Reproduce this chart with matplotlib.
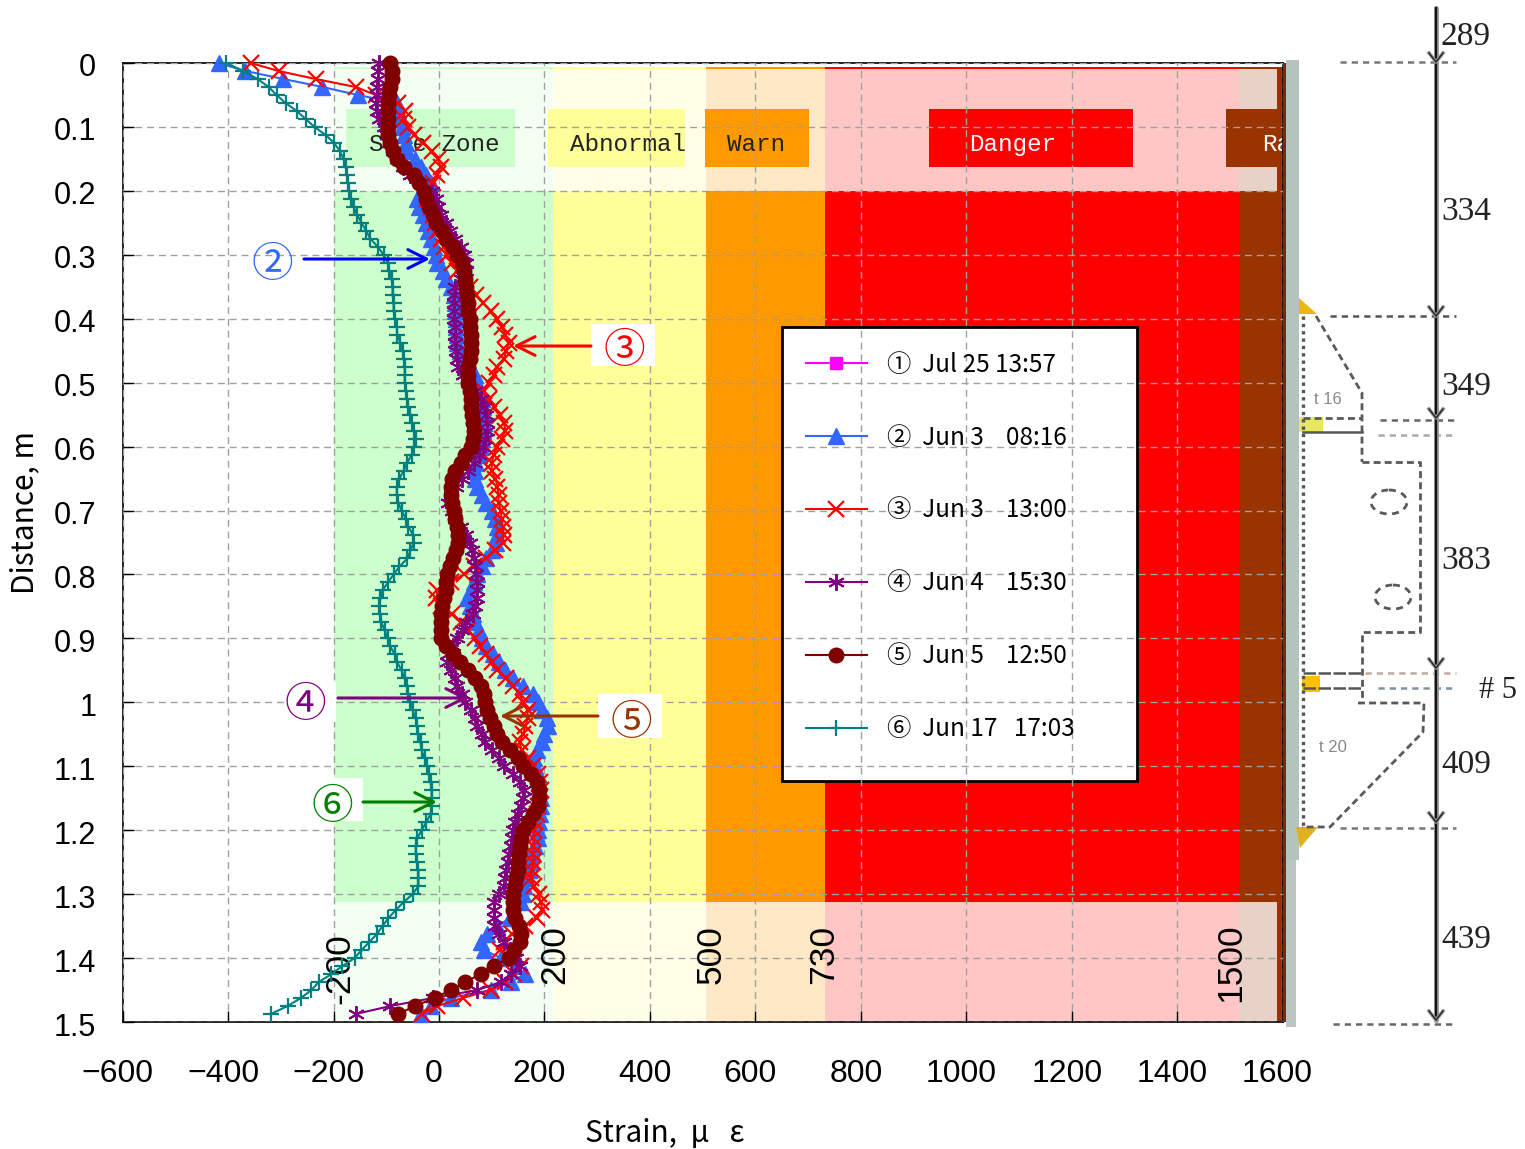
import numpy as np
import matplotlib
matplotlib.use('Agg')
import matplotlib.pyplot as plt
from matplotlib.patches import Rectangle, Ellipse, Polygon
from matplotlib.transforms import ScaledTranslation

plt.rcParams['font.family'] = ['Noto Sans CJK JP', 'DejaVu Sans']

# strain readings along the gauge line, one every 0.0125 m
strain_jun3_0816 = [-418, -367, -295, -221, -154, -79, -77, -73, -71, -67, -63, -60, -46, -35, -24, -16, -31, -41, -37, -31,
                    -25, -20, -16, -10, -6, -3, 7, 14, 22, 28, 30, 31, 33, 33, 35, 35, 39, 47, 56, 69,
                    73, 77, 81, 83, 85, 85, 83, 81, 79, 75, 71, 68, 68, 73, 81, 90, 100, 107, 111, 111,
                    109, 100, 90, 81, 73, 66, 60, 54, 58, 64, 69, 75, 81, 90, 102, 113, 126, 141, 159, 178,
                    187, 195, 204, 206, 200, 195, 185, 181, 183, 187, 189, 191, 193, 193, 191, 189, 187, 187, 183, 179,
                    174, 170, 166, 162, 159, 155, 143, 134, 111, 92, 79, 86, 117, 145, 164, 136, 98, 22, -16, -35]
strain_jun3_1300 = [-357, -304, -234, -158, -120, -77, -65, -67, -58, -48, -31, -14, -1, 3, -3, -12, -20, -22, -16, -12,
                    -8, -3, 3, 9, 16, 24, 35, 45, 58, 71, 83, 98, 111, 119, 126, 132, 128, 123, 111, 104,
                    94, 85, 94, 104, 115, 123, 126, 119, 111, 104, 100, 100, 107, 111, 113, 113, 117, 119, 121, 123,
                    121, 107, 90, 66, 47, 22, -3, -5, 3, 24, 41, 56, 68, 77, 90, 100, 111, 128, 141, 153,
                    160, 168, 168, 164, 159, 153, 157, 168, 178, 187, 191, 193, 189, 187, 185, 183, 181, 179, 179, 179,
                    179, 176, 174, 181, 189, 193, 196, 185, 164, 138, 123, 115, 134, 155, 143, 126, 98, 45, -3, -33]
strain_jun4_1530 = [-113, -115, -116, -118, -118, -120, -118, -113, -105, -99, -94, -88, -80, -69, -54, -35, -14, -5, -1, 3,
                    13, 20, 31, 41, 47, 52, 52, 41, 30, 28, 28, 28, 28, 30, 31, 31, 33, 35, 37, 45,
                    56, 69, 79, 86, 90, 92, 92, 88, 83, 75, 66, 56, 43, 33, 22, 18, 24, 31, 41, 52,
                    58, 62, 66, 69, 71, 73, 73, 73, 68, 64, 52, 43, 35, 26, 18, 16, 22, 30, 35, 43,
                    50, 60, 68, 73, 81, 88, 100, 113, 124, 140, 153, 162, 160, 155, 149, 145, 141, 138, 136, 132,
                    130, 128, 126, 123, 113, 105, 104, 104, 107, 113, 123, 134, 147, 153, 136, 117, 73, -12, -92, -158]
strain_jun5_1250 = [-92, -90, -90, -92, -94, -96, -96, -97, -97, -96, -92, -88, -79, -67, -48, -37, -29, -24, -18, -12,
                    -6, 5, 14, 26, 35, 43, 47, 50, 52, 54, 56, 56, 58, 58, 60, 60, 60, 58, 56, 56,
                    56, 58, 60, 60, 62, 64, 66, 64, 60, 49, 41, 31, 24, 22, 22, 24, 28, 31, 35, 37,
                    37, 33, 26, 20, 16, 14, 13, 9, 5, 3, 3, 3, 3, 13, 26, 39, 56, 69, 79, 86,
                    88, 92, 96, 104, 111, 119, 134, 149, 160, 174, 185, 189, 189, 187, 178, 168, 159, 155, 153, 151,
                    149, 149, 147, 145, 141, 140, 141, 145, 151, 155, 153, 143, 132, 104, 79, 50, 22, -8, -46, -77]
strain_jun17_1703 = [-403, -372, -344, -323, -308, -291, -270, -253, -236, -215, -199, -188, -181, -177, -175, -173, -170, -166, -162, -155,
                     -147, -138, -130, -116, -105, -97, -94, -90, -88, -88, -86, -86, -84, -80, -79, -73, -69, -67, -65, -65,
                     -65, -63, -61, -58, -54, -52, -48, -44, -48, -52, -60, -67, -75, -80, -80, -77, -71, -63, -58, -50,
                     -48, -54, -60, -75, -86, -97, -107, -111, -113, -111, -109, -103, -97, -92, -84, -79, -71, -65, -61, -58,
                     -54, -50, -44, -42, -39, -35, -33, -27, -22, -18, -16, -14, -14, -14, -16, -24, -33, -41, -44, -44,
                     -42, -39, -39, -39, -50, -67, -82, -96, -107, -118, -132, -147, -160, -183, -204, -228, -242, -262, -287, -319]
depth = np.arange(len(strain_jun5_1250)) * 0.0125

legend_labels = ['①  Jul 25 13:57', '②  Jun 3    08:16', '③  Jun 3    13:00',
                 '④  Jun 4    15:30', '⑤  Jun 5    12:50', '⑥  Jun 17   17:03']
y_ticks = [i / 10 for i in range(16)]
y_tick_labels = ['0', '0.1', '0.2', '0.3', '0.4', '0.5', '0.6', '0.7', '0.8', '0.9',
                 '1', '1.1', '1.2', '1.3', '1.4', '1.5']
x_ticks = [-600, -400, -200, 0, 200, 400, 600, 800, 1000, 1200, 1400, 1600]
x_tick_labels = ['\u2212600', '\u2212400', '\u2212200', '0', '200', '400', '600', '800', '1000', '1200', '1400', '1600']

# zone limits and colours
band_edges = [-200, 216, 507, 733, 1517, 1600]
band_colors = ['#CCFFCC', '#FFFF99', '#FF9900', '#FF0000', '#993300']
band_limit_labels = ['-200', '200', '500', '730', '1500']
band_limit_x = [-187, 219, 516, 730, 1501]
band_limit_depth = [1.417, 1.395, 1.395, 1.395, 1.408]
zone_names = ['Safe Zone', 'Abnormal', 'Warn', 'Danger', 'Rapid']
zone_box_left = [-177, 206, 505, 930, 1492]
zone_box_right = [145, 466, 701, 1317, 1600]
zone_text_x = [-132, 249, 547, 1006, 1562]
zone_text_color = ['#222222', '#222222', '#222222', 'white', 'white']

fig = plt.figure(figsize=(15.25, 11.49), dpi=100)
W, H = 1525, 1149
ax = fig.add_axes([122.6 / W, 1 - 1022 / H, (1282 - 122) / W, (1022 - 63) / H], zorder=1)
ax.set_xlim(-600, 1600)
ax.set_ylim(1.5, 0)

# colour bands, washed out above 0.2 and below 1.31
for i in range(5):
    ax.add_patch(Rectangle((band_edges[i], 0.006), band_edges[i + 1] - band_edges[i], 1.494,
                           color=band_colors[i], lw=0, zorder=0.5))
for top, bottom in [(0.009, 0.2), (1.312, 1.5)]:
    ax.add_patch(Rectangle((-200, top), 1790, bottom - top, color='white', alpha=0.78, lw=0, zorder=0.6))

# zone name boxes
for i in range(5):
    ax.add_patch(Rectangle((zone_box_left[i], 0.072), zone_box_right[i] - zone_box_left[i], 0.091,
                           color=band_colors[i], lw=0, zorder=0.7))
    ax.text(zone_text_x[i], 0.127, zone_names[i], family='Liberation Mono', fontsize=17.5,
            color=zone_text_color[i], va='center', ha='left', zorder=0.8, clip_on=True)

for x, y, label in zip(band_limit_x, band_limit_depth, band_limit_labels):
    ax.text(x, y, label, rotation=90, family='Liberation Sans', fontsize=25.5, va='center', ha='center', zorder=2.7)

# legend frame sits under the grid
ax.add_patch(Rectangle((650, 0.413), 673, 0.71, facecolor='white', edgecolor='black', lw=2, zorder=2))

ax.set_axisbelow(False)
ax.grid(True, color='#A0A0A0', ls=(0, (5, 3.5)), lw=1)

# series 1 has no points left on the chart, only its legend entry
ax.plot([], [], color='#FF00FF', lw=1.5, marker='s', ms=9, label=legend_labels[0])
ax.plot(strain_jun3_0816, depth, color='#3366FF', lw=1.5, marker='^', ms=11, clip_on=False, zorder=3, label=legend_labels[1])
ax.plot(strain_jun3_1300, depth, color='#FF0000', lw=1.5, marker='x', ms=12, mew=1.6, clip_on=False, zorder=3.1, label=legend_labels[2])
ax.plot(strain_jun4_1530, depth, color='#800080', lw=1.5, marker=(6, 2, 0), ms=12, mew=1.4, clip_on=False, zorder=3.2, label=legend_labels[3])
ax.plot(strain_jun5_1250, depth, color='#800000', lw=1.5, marker='o', ms=10.5, clip_on=False, zorder=3.3, label=legend_labels[4])
ax.plot(strain_jun17_1703, depth, color='#008080', lw=1.5, marker='+', ms=11, mew=1.6, clip_on=False, zorder=3.4, label=legend_labels[5])

ax.legend(loc='upper left', bbox_to_anchor=(0.5892, 0.699), frameon=False, fontsize=17.5, handlelength=2.5,
          handletextpad=0.85, labelspacing=1.93, borderpad=0, borderaxespad=0).set_zorder(2.8)

ax.set_xticks(x_ticks, x_tick_labels)
ax.set_yticks(y_ticks, y_tick_labels)
ax.tick_params(axis='x', direction='in', length=8, width=1, labelsize=23, pad=27)
ax.tick_params(axis='y', direction='in', length=8, width=1, labelsize=22, pad=19)
shift_x = ScaledTranslation(-5 / 100, 0, fig.dpi_scale_trans)
shift_y = ScaledTranslation(0, -2 / 100, fig.dpi_scale_trans)
for lab in ax.get_xticklabels():
    lab.set_transform(lab.get_transform() + shift_x)
for lab in ax.get_yticklabels():
    lab.set_transform(lab.get_transform() + shift_y)
for lab in ax.get_xticklabels() + ax.get_yticklabels():
    lab.set_family(['Liberation Sans', 'DejaVu Sans'])
for sp in ax.spines.values():
    sp.set_linewidth(1.2)

# everything below is placed in picture pixels on a see-through layer
ov = fig.add_axes([0, 0, 1, 1], zorder=2)
ov.set_xlim(0, W)
ov.set_ylim(H, 0)
ov.axis('off')
ov.patch.set_alpha(0)

ov.text(665, 1133, 'Strain,  μ   ε', fontsize=21.5, ha='center', va='center')
ov.text(25, 513, 'Distance, m', fontsize=21.5, rotation=90, ha='center', va='center')

# callouts: number, number colour, box, arrow start and end
callouts = [('②', '#3366FF', 272, 266, None, 304, 430, 259, '#0000FF'),
            ('③', '#FF0000', 624, 351, (591, 324, 64, 42), 591, 513, 346, '#FF0000'),
            ('④', '#800080', 305, 706, (286, 682, 50, 40), 338, 468, 698, '#800080'),
            ('⑤', '#993300', 631, 723, (598, 694, 64, 44), 598, 500, 716, '#993300'),
            ('⑥', '#008000', 332, 807, (311, 778, 52, 43), 363, 437, 802, '#008000')]
for num, col, tx, ty, box, x0, x1, ay, acol in callouts:
    if box:
        ov.add_patch(Rectangle(box[:2], box[2], box[3], color='white', lw=0))
    ov.text(tx, ty, num, color=col, fontsize=30, ha='center', va='center')
    ov.annotate('', xy=(x1, ay), xytext=(x0, ay),
                arrowprops=dict(arrowstyle='->,head_length=0.9,head_width=0.45', color=acol, lw=2.2,
                                shrinkA=0, shrinkB=0, mutation_scale=15))

# girder sketch on the right
ov.add_patch(Rectangle((1283, 63), 3, 959, color='#7A2A00', lw=0))
ov.add_patch(Rectangle((1286, 60), 13, 800, color='#B4C4BC', lw=0))
ov.add_patch(Rectangle((1286, 860), 10, 167, color='#BCC6C0', lw=0))
ov.add_patch(Polygon([(1299, 298), (1299, 314), (1317, 314)], color='#E6B810', lw=0))
ov.add_patch(Polygon([(1296, 827), (1318, 827), (1300, 848)], color='#E0B020', lw=0))
ov.add_patch(Rectangle((1299, 417), 24, 15, color='#E8E860', lw=0))
ov.add_patch(Rectangle((1302, 676), 18, 16, color='#FFC000', lw=0))

sk = dict(color='#5A5A5A', lw=2, ls=(0, (2.5, 1.5)))
ov.plot([1303, 1303], [316, 828], **dict(sk, lw=2.4, ls=(0, (1, 1.2)), color='#555555'))
ov.plot([1316, 1362, 1362], [316, 393, 462], **sk)
ov.plot([1362, 1420, 1420, 1362, 1362], [462, 462, 632, 632, 703], **sk)
ov.plot([1358, 1424, 1423, 1330, 1302], [703, 703, 732, 827, 827], **sk)
ov.plot([1303, 1362], [418, 418], **sk)
ov.plot([1303, 1362], [432, 432], color='#555555', lw=1.8)
ov.plot([1303, 1362], [673, 673], color='#555555', lw=1.8, ls=(0, (5, 1)))
ov.plot([1303, 1362], [688, 688], color='#555555', lw=1.8, ls=(0, (5, 1)))
ov.add_patch(Ellipse((1389, 502), 36, 24, fill=False, ec='#5A5A5A', lw=2, ls=(0, (2.5, 2))))
ov.add_patch(Ellipse((1393, 597), 36, 24, fill=False, ec='#5A5A5A', lw=2, ls=(0, (2.5, 2))))
ov.text(1328, 400, 't 16', color='#888888', fontsize=12, family='Liberation Sans', ha='center', va='center')
ov.text(1333, 747, 't 20', color='#888888', fontsize=12, family='Liberation Sans', ha='center', va='center')

# level marks and the dimension line
for y0, x0, col in [(62, 1340, '#777777'), (316, 1330, '#555555'), (420, 1380, '#666666'), (435, 1378, '#AAAAAA'),
                    (673, 1365, '#C0A8A0'), (688, 1378, '#8090A0'), (828, 1340, '#777777'), (1024, 1333, '#666666')]:
    ov.plot([x0, 1456], [y0, y0], color=col, lw=1.8, ls=(0, (2.5, 2)))
ov.plot([1436, 1436], [8, 1020], color='#999999', lw=3.6, solid_capstyle='round')
ov.plot([1436, 1436], [8, 1020], color='#111111', lw=1.6)
for tip in [62, 316, 418, 668, 822, 1020]:
    ov.plot([1429, 1436, 1443], [tip - 9, tip, tip - 9], color='#999999', lw=2.6)
    ov.plot([1429, 1436, 1443], [tip - 9, tip, tip - 9], color='#222222', lw=1)

dim_labels = ['289', '334', '349', '383', '409', '439']
dim_y = [37, 212, 387, 561, 765, 940]
for lab, y0 in zip(dim_labels, dim_y):
    ov.text(1466, y0, lab, family='Liberation Serif', fontsize=24, color='#222222', ha='center', va='center')
ov.text(1498, 690, '# 5', family='Liberation Serif', fontsize=22, color='#222222', ha='center', va='center')

fig.savefig('out.png', dpi=100)
